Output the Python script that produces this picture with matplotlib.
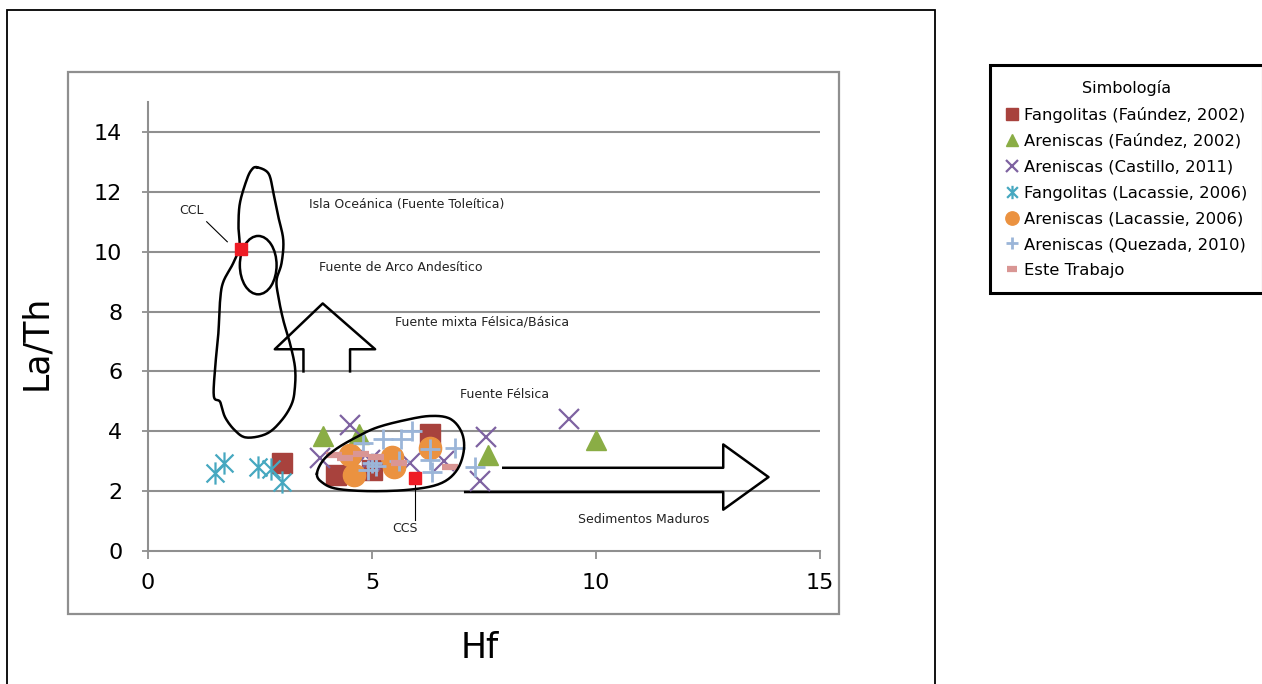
import numpy as np
import matplotlib
matplotlib.use('Agg')
import matplotlib.pyplot as plt
from matplotlib.patches import Rectangle, Ellipse
from matplotlib.path import Path

# ---- data (Hf, La/Th) ----
fang_fau_hf = [3.0, 4.2, 5.0, 6.3]
fang_fau_lath = [2.95, 2.55, 2.7, 3.9]

aren_fau_hf = [3.9, 4.7, 7.6, 10.0]
aren_fau_lath = [3.85, 3.9, 3.2, 3.72]

aren_cas_hf = [4.5, 3.85, 4.95, 4.6, 5.85, 6.6, 7.55, 7.4, 9.4]
aren_cas_lath = [4.2, 3.1, 3.05, 2.8, 2.95, 3.0, 3.8, 2.35, 4.4]

fang_lac_hf = [1.5, 1.7, 2.45, 2.75, 3.0]
fang_lac_lath = [2.6, 2.95, 2.8, 2.75, 2.3]

aren_lac_hf = [4.5, 4.6, 5.45, 5.5, 6.3]
aren_lac_lath = [3.2, 2.55, 3.15, 2.8, 3.45]

aren_que_hf = [4.8, 5.25, 5.65, 5.9, 5.0, 5.1, 5.6, 6.3, 6.35, 6.3, 6.85, 7.3, 4.9]
aren_que_lath = [3.6, 3.75, 3.75, 4.0, 2.95, 2.85, 3.0, 3.05, 2.65, 3.4, 3.45, 2.8, 2.7]

este_hf = [4.15, 4.75, 5.1, 5.6, 6.75, 4.4]
este_lath = [3.2, 3.25, 3.15, 2.95, 2.8, 3.1]

ref_names = ['CCL', 'CCS']
ref_hf = [2.07, 5.95]
ref_lath = [10.1, 2.45]

# outlines of the fields (hand-drawn in the original)
ccl_field_hf = [2.43, 2.69, 2.80, 2.91, 3.02, 2.98, 2.87, 2.91, 3.02, 3.17, 3.28, 3.28, 3.21,
                2.98, 2.65, 2.20, 1.94, 1.72, 1.61, 1.47, 1.50, 1.57, 1.61, 1.68, 1.90, 2.04,
                2.02, 2.05, 2.20, 2.31]
ccl_field_lath = [12.82, 12.61, 11.95, 11.16, 10.38, 9.61, 9.05, 8.49, 7.71, 6.93, 6.15, 5.48, 4.92,
                  4.36, 3.92, 3.79, 4.03, 4.47, 4.98, 5.17, 6.15, 7.26, 8.38, 8.99, 9.61, 10.16,
                  10.83, 11.61, 12.39, 12.73]
ccs_field_hf = [3.77, 3.91, 4.21, 4.66, 5.10, 5.70, 6.29, 6.74, 7.00, 7.05, 6.89, 6.52, 5.85,
                4.96, 4.21, 3.88]
ccs_field_lath = [2.58, 3.03, 3.42, 3.81, 4.12, 4.36, 4.51, 4.42, 3.97, 3.36, 2.69, 2.25, 2.05,
                  2.00, 2.08, 2.30]

up_arrow_hf = [3.47, 3.47, 2.83, 3.90, 5.07, 4.51, 4.51]
up_arrow_lath = [6.0, 6.74, 6.74, 8.27, 6.74, 6.74, 6.0]
right_arrow_hf = [7.93, 12.84, 12.84, 13.85, 12.84, 12.84, 7.08]
right_arrow_lath = [2.78, 2.78, 3.56, 2.47, 1.38, 1.97, 1.97]


def smooth_closed(xs, ys, n=12):
    # catmull-rom through the points, closed loop
    p = np.column_stack([xs, ys])
    out = []
    m = len(p)
    for i in range(m):
        p0, p1, p2, p3 = p[i - 1], p[i], p[(i + 1) % m], p[(i + 2) % m]
        for t in np.linspace(0, 1, n, endpoint=False):
            t2, t3 = t * t, t * t * t
            out.append(0.5 * ((2 * p1) + (-p0 + p2) * t + (2 * p0 - 5 * p1 + 4 * p2 - p3) * t2
                              + (-p0 + 3 * p1 - 3 * p2 + p3) * t3))
    out.append(out[0])
    out = np.array(out)
    return out[:, 0], out[:, 1]


asterisk = Path([(-0.5, -0.5), (0.5, 0.5), (-0.5, 0.5), (0.5, -0.5), (0, -0.62), (0, 0.62)],
                [Path.MOVETO, Path.LINETO, Path.MOVETO, Path.LINETO, Path.MOVETO, Path.LINETO])

fig = plt.figure(figsize=(12.62, 6.84), dpi=100)
ax = fig.add_axes([148 / 1262, 1 - 551 / 684, 672 / 1262, 449 / 684])

# frames like the pasted excel chart
fig.add_artist(Rectangle((7 / 1262, -0.1), 928 / 1262, 1.1 - 10 / 684, transform=fig.transFigure,
                         fill=False, ec='black', lw=1.3))
fig.add_artist(Rectangle((68 / 1262, 1 - 614 / 684), 771 / 1262, 542 / 684, transform=fig.transFigure,
                         fill=False, ec='#8f8f8f', lw=1.6))

ax.set_xlim(0, 15)
ax.set_ylim(0, 15)
ax.set_xticks([0, 5, 10, 15])
ax.set_yticks(range(0, 15, 2))
for y in range(2, 15, 2):
    ax.axhline(y, color='#8f8f8f', lw=1.5, zorder=0)
for s in ['top', 'right']:
    ax.spines[s].set_visible(False)
for s in ['left', 'bottom']:
    ax.spines[s].set_color('#8f8f8f')
    ax.spines[s].set_linewidth(1.5)
ax.tick_params(axis='y', direction='inout', length=9, width=1.3, color='#8f8f8f', labelsize=16, pad=14)
ax.tick_params(axis='x', direction='out', length=6, width=1.3, color='#8f8f8f', labelsize=16, pad=10)
ax.set_ylabel('La/Th', fontsize=25)
ax.yaxis.set_label_coords(-0.141, 0.464)
ax.set_xlabel('Hf', fontsize=25)
ax.xaxis.set_label_coords(0.494, -0.178)

# fields and arrows
cx, cy = smooth_closed(ccl_field_hf, ccl_field_lath)
ax.plot(cx, cy, color='black', lw=1.8, zorder=2)
ax.add_patch(Ellipse((2.46, 9.55), 0.82, 1.95, fill=False, ec='black', lw=1.8, zorder=2))
sx, sy = smooth_closed(ccs_field_hf, ccs_field_lath)
ax.plot(sx, sy, color='black', lw=1.8, zorder=6)
ax.plot(up_arrow_hf, up_arrow_lath, color='black', lw=1.8, zorder=2)
ax.plot(right_arrow_hf, right_arrow_lath, color='black', lw=1.8, zorder=2)

# series
ax.plot(fang_fau_hf, fang_fau_lath, ls='none', marker='s', ms=15, color='#a8423d',
        label='Fangolitas (Faúndez, 2002)', zorder=3)
ax.plot(aren_fau_hf, aren_fau_lath, ls='none', marker='^', ms=15, color='#8aad45',
        label='Areniscas (Faúndez, 2002)', zorder=3)
ax.plot(aren_cas_hf, aren_cas_lath, ls='none', marker='x', ms=15, mew=1.6, color='#7e62a1',
        label='Areniscas (Castillo, 2011)', zorder=3)
ax.plot(fang_lac_hf, fang_lac_lath, ls='none', marker=asterisk, ms=16, mew=1.6, color='#46a8c0',
        label='Fangolitas (Lacassie, 2006)', zorder=3)
ax.plot(aren_lac_hf, aren_lac_lath, ls='none', marker='o', ms=16, color='#eb9240',
        label='Areniscas (Lacassie, 2006)', zorder=3)
ax.plot(aren_que_hf, aren_que_lath, ls='none', marker='+', ms=15, mew=2, color='#9bb5d8',
        label='Areniscas (Quezada, 2010)', zorder=4)
ax.plot(este_hf, este_lath, ls='none', marker='_', ms=11, mew=4.5, color='#d99694',
        label='Este Trabajo', zorder=4)
ax.plot(ref_hf, ref_lath, ls='none', marker='s', ms=8, color='#ee1c25', zorder=7)

# labels for the fields
txt = dict(fontsize=9, color='#222222', va='center')
ax.text(3.59, 11.56, 'Isla Oceánica (Fuente Toleítica)', **txt)
ax.text(3.82, 9.48, 'Fuente de Arco Andesítico', **txt)
ax.text(5.51, 7.64, 'Fuente mixta Félsica/Básica', **txt)
ax.text(6.96, 5.23, 'Fuente Félsica', **txt)
ax.text(9.60, 1.05, 'Sedimentos Maduros', **txt)
ax.text(0.98, 11.39, ref_names[0], ha='center', **txt)
ax.text(5.74, 0.75, ref_names[1], ha='center', **txt)
ax.plot([1.31, 1.77], [11.0, 10.33], color='black', lw=0.8)
ax.plot([5.95, 5.95], [2.3, 1.05], color='black', lw=0.8)

leg = fig.legend(loc='upper left', bbox_to_anchor=(990 / 1262, 1 - 65 / 684), borderaxespad=0,
                 title='Simbología', fontsize=11.8, title_fontsize=11.5, markerscale=0.6,
                 handlelength=0.9, handletextpad=0.3, labelspacing=0.66, borderpad=0.9,
                 fancybox=False, edgecolor='black', framealpha=1)
leg.get_frame().set_linewidth(2.2)

fig.savefig('out.png', dpi=100)
